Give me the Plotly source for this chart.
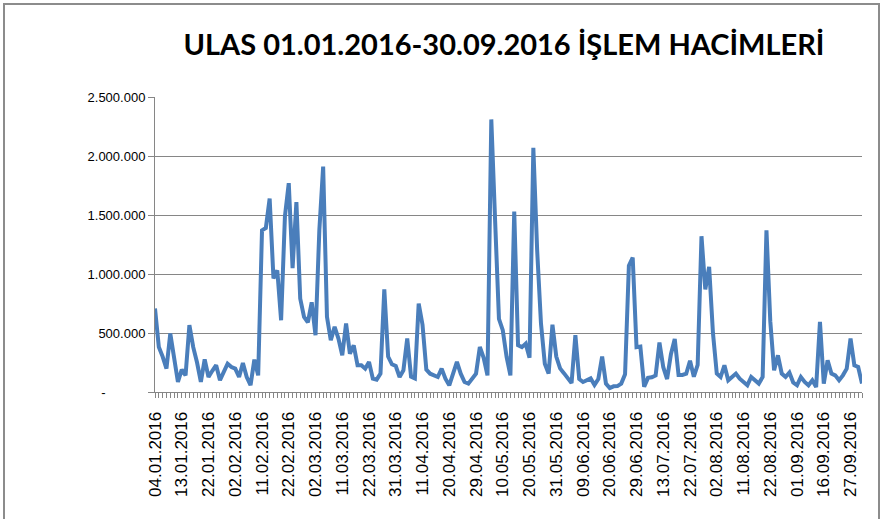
import pandas as pd
import plotly.graph_objects as go

# ---- data -------------------------------------------------------------
holidays = ["2016-01-01", "2016-05-19", "2016-07-06", "2016-07-07", "2016-07-08",
            "2016-08-30", "2016-09-12", "2016-09-13", "2016-09-14", "2016-09-15"]
trade_days = [d for d in pd.bdate_range("2016-01-04", "2016-09-30")
              if d.strftime("%Y-%m-%d") not in holidays]
day_labels = [d.strftime("%d.%m.%Y") for d in trade_days]

volume = [
    707000, 382000, 300000, 198000, 495000, 280000, 85000, 190000, 141000, 566000,
    380000, 250000, 85000, 277000, 127000, 180000, 227000, 100000, 170000, 240000,
    212000, 198000, 127000, 246000, 127000, 57000, 274000, 141000, 1370000, 1390000,
    1640000, 962000, 1030000, 608000, 1490000, 1770000, 1050000, 1610000, 792000, 637000,
    590000, 760000, 481000, 1370000, 1910000, 637000, 439000, 552000, 453000, 311000,
    580000, 325000, 396000, 226000, 226000, 198000, 255000, 113000, 105000, 156000,
    870000, 300000, 235000, 220000, 127000, 184000, 453000, 130000, 115000, 750000,
    570000, 190000, 155000, 141000, 127000, 198000, 113000, 57000, 170000, 255000,
    155000, 85000, 71000, 113000, 156000, 382000, 290000, 141000, 2310000, 1450000,
    620000, 524000, 297000, 141000, 1530000, 396000, 380000, 410000, 290000, 2070000,
    1200000, 580000, 240000, 156000, 570000, 300000, 200000, 160000, 110000, 75000,
    481000, 110000, 85000, 100000, 115000, 60000, 110000, 300000, 71000, 34000,
    48000, 50000, 71000, 150000, 1070000, 1140000, 380000, 385000, 45000, 120000,
    125000, 140000, 420000, 210000, 110000, 320000, 450000, 145000, 145000, 155000,
    265000, 130000, 230000, 1320000, 870000, 1060000, 500000, 156000, 127000, 226000,
    99000, 127000, 156000, 113000, 85000, 57000, 127000, 99000, 71000, 127000,
    1370000, 600000, 184000, 311000, 156000, 127000, 165000, 80000, 57000, 127000,
    85000, 57000, 99000, 42000, 594000, 71000, 269000, 156000, 141000, 99000,
    141000, 198000, 453000, 226000, 212000, 71000,
]

tick_labels = ["04.01.2016", "13.01.2016", "22.01.2016", "02.02.2016", "11.02.2016",
               "22.02.2016", "02.03.2016", "11.03.2016", "22.03.2016", "31.03.2016",
               "11.04.2016", "20.04.2016", "29.04.2016", "10.05.2016", "20.05.2016",
               "31.05.2016", "09.06.2016", "20.06.2016", "29.06.2016", "13.07.2016",
               "22.07.2016", "02.08.2016", "11.08.2016", "22.08.2016", "01.09.2016",
               "16.09.2016", "27.09.2016"]
y_ticks = [0, 500000, 1000000, 1500000, 2000000, 2500000]
y_tick_text = ["-" + "\u00a0" * 11, "500.000", "1.000.000", "1.500.000", "2.000.000", "2.500.000"]

title = "ULAS 01.01.2016-30.09.2016 İŞLEM HACİMLERİ"

# ---- figure -----------------------------------------------------------
W, H = 883, 519
L, R, T, B = 155, 21, 97, 127
pw, ph = W - L - R, H - T - B

x_pos = list(range(len(day_labels)))

fig = go.Figure()
fig.add_trace(go.Scatter(
    x=x_pos, y=volume, mode="lines",
    line=dict(color="#4A7EBB", width=4),
    text=day_labels, hovertemplate="%{text}: %{y}<extra></extra>",
))

tickvals = [day_labels.index(t) for t in tick_labels]

fig.update_layout(
    width=W, height=H,
    margin=dict(l=L, r=R, t=T, b=B, autoexpand=False),
    paper_bgcolor="white", plot_bgcolor="white",
    showlegend=False,
    font=dict(family="Liberation Sans, Arial, sans-serif", color="#000000"),
    title=dict(text="<b>" + title + "</b>", x=504 / W, xanchor="center",
               y=1 - 45 / H, yanchor="middle",
               font=dict(family="Lato, Liberation Sans, Arial", size=29, color="#000000")),
    xaxis=dict(
        range=[0, len(day_labels) - 1],
        tickmode="array", tickvals=tickvals, ticktext=tick_labels,
        tickangle=-90, tickfont=dict(size=17, color="#000000"),
        ticks="outside", ticklen=5, tickcolor="#868686", tickwidth=1,
        ticklabelstandoff=7,
        minor=dict(ticks="outside", ticklen=5, tickcolor="#868686", dtick=1, tick0=0, showgrid=False),
        showline=True, linecolor="#868686", linewidth=1,
        showgrid=False, zeroline=False,
    ),
    yaxis=dict(
        range=[0, 2500000],
        tickmode="array", tickvals=y_ticks, ticktext=y_tick_text,
        tickfont=dict(size=13, color="#000000"),
        ticks="outside", ticklen=6, tickcolor="#868686",
        showline=True, linecolor="#868686", linewidth=1,
        showgrid=True, gridcolor="#868686", gridwidth=1,
        zeroline=False,
    ),
)

# chart-area frame
fig.add_shape(type="rect", xref="paper", yref="paper",
              x0=(4 - L) / pw, x1=(879 - L) / pw,
              y0=(H - B - 530) / ph, y1=(H - B - 4) / ph,
              line=dict(color="#8C8C8C", width=2), fillcolor="rgba(0,0,0,0)", layer="below")

fig.write_html("out.html",
               config={"displayModeBar": False},
               post_script="document.body.style.margin='0';document.body.style.overflow='hidden';")
